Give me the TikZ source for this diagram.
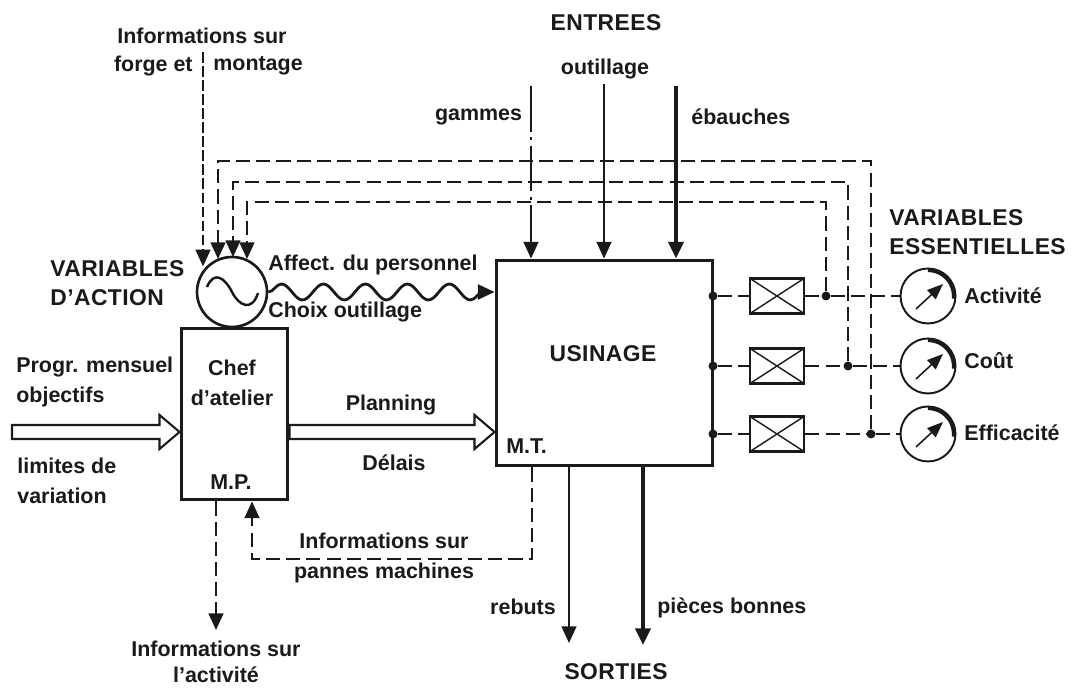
\documentclass[tikz,border=0pt]{standalone}
\usepackage{fontspec}
\setmainfont{Liberation Sans}
\usetikzlibrary{arrows.meta,calc,decorations.pathmorphing}
\definecolor{encre}{HTML}{1A1A1A}

\begin{document}
\begin{tikzpicture}[
  x=0.02cm, y=-0.02cm, encre,
  etiq/.style={inner sep=0pt, font=\fontsize{12.2}{16.8}\selectfont\bfseries, align=center},
  etiqg/.style={etiq, anchor=west, align=left},
  majus/.style={font=\fontsize{13}{16.8}\selectfont\bfseries\addfontfeature{LetterSpace=2}},
  boite/.style={draw, line width=1.7pt},
  capteur/.style={draw, line width=1.5pt, minimum width=1.08cm, minimum height=0.7cm,
                  path picture={\draw[line width=0.8pt]
                    (path picture bounding box.north west) -- (path picture bounding box.south east)
                    (path picture bounding box.south west) -- (path picture bounding box.north east);}},
  cadran/.style={draw, circle, line width=1.1pt, minimum size=1.1cm, inner sep=0pt},
  point/.style={circle, fill, inner sep=0pt, minimum size=0.18cm},
  fleche/.style={-{Triangle[length=9.5pt,width=8.5pt]}},
  tirets/.style={line width=1pt, dash pattern=on 8pt off 3.5pt},
  tiretscourts/.style={line width=1pt, dash pattern=on 6pt off 2pt},
  mixte/.style={line width=1pt, dash pattern=on 26pt off 3pt on 2pt off 3pt},
  aiguille/.style={line width=0.9pt, -{Triangle[length=9pt,width=7pt]}},
  creuse/.style={line width=1.2pt, to path={
    ($(\tikztostart)+(0,-7)$) -- ($(\tikztotarget)+(-20,-7)$) -- ($(\tikztotarget)+(-20,-17)$)
    -- (\tikztotarget) -- ($(\tikztotarget)+(-20,17)$) -- ($(\tikztotarget)+(-20,7)$)
    -- ($(\tikztostart)+(0,7)$) -- cycle}}
]
\useasboundingbox (0,0) rectangle (1073,688);

% blocs
\node[boite, minimum width=4.34cm, minimum height=4.12cm] (usinage) at (604.5,363) {};
\node[boite, minimum width=2.14cm, minimum height=3.44cm] (chef) at (234.5,414) {};
\node[draw, circle, line width=1.5pt, minimum size=1.4cm, inner sep=0pt] (variateur) at (232,292) {};
\draw[line width=1.4pt] ($(variateur)+(-25,-5)$) .. controls ($(variateur)+(-18,-22)$) and ($(variateur)+(-7,-14)$) .. (variateur.center)
  .. controls ($(variateur)+(7,14)$) and ($(variateur)+(20,20)$) .. ($(variateur)+(26,1)$);

\node[capteur] (c1) at (777,296) {};
\node[capteur] (c2) at (777,366) {};
\node[capteur] (c3) at (777,434) {};
\node[point] (p1) at (713,296) {};
\node[point] (p2) at (713,366) {};
\node[point] (p3) at (713,434) {};
\node[point] (j1) at (826,296) {};
\node[point] (j2) at (848,366) {};
\node[point] (j3) at (871,434) {};
\node[cadran] (g1) at (928,296) {};
\node[cadran] (g2) at (928,366) {};
\node[cadran] (g3) at (928,434) {};

% cadrans
\draw[aiguille] ($(g1)+(-12,13)$) -- ($(g1)+(15,-12)$);
\draw[aiguille] ($(g2)+(-12,13)$) -- ($(g2)+(15,-12)$);
\draw[aiguille] ($(g3)+(-12,13)$) -- ($(g3)+(15,-12)$);
\draw[line width=2.4pt] ($(g1)+(0,-26)$) arc[start angle=-90, end angle=6, radius=26];
\draw[line width=2.4pt] ($(g2)+(0,-26)$) arc[start angle=-90, end angle=6, radius=26];
\draw[line width=2.4pt] ($(g3)+(0,-26)$) arc[start angle=-90, end angle=6, radius=26];

% entrees et sorties
\coordinate (gam) at (531,86);
\coordinate (out) at (604,84);
\coordinate (eba) at (676,86);
\coordinate (reb) at (569,643);
\coordinate (bon) at (643,645);
\draw[mixte, fleche] (gam) -- (gam |- usinage.north);
\draw[line width=1pt, fleche] (out) -- (out |- usinage.north);
\draw[line width=2.8pt, fleche] (eba) -- (eba |- usinage.north);
\draw[line width=1pt, fleche] (reb |- usinage.south) -- (reb);
\draw[line width=2.8pt, fleche] (bon |- usinage.south) -- (bon);

% retours
\coordinate (r1) at (218,161);
\coordinate (r2) at (233,182);
\coordinate (r3) at (247,202);
\coordinate (v1) at (218,259);
\coordinate (v2) at (233,257);
\coordinate (v3) at (247,259);
\coordinate (forge) at (203,52);
\draw[tirets, fleche] (j3) |- (r1) -- (v1);
\draw[tirets, fleche] (j2) |- (r2) -- (v2);
\draw[tirets, fleche] (j1) |- (r3) -- (v3);
\draw[tiretscourts, fleche] (forge) -- (forge |- variateur.north west);

% mesures
\draw[tirets] (p1) -- (c1);
\draw[tirets] (p2) -- (c2);
\draw[tirets] (p3) -- (c3);
\draw[tirets] (c1) -- (j1);
\draw[tirets] (c2) -- (j2);
\draw[tirets] (c3) -- (j3);
\draw[tirets] (j1) -- (g1);
\draw[tirets] (j2) -- (g2);
\draw[tirets] (j3) -- (g3);

% pannes et activite
\coordinate (mt) at (532,559);
\coordinate (mp) at (252,559);
\coordinate (act) at (216,630);
\draw[tirets, fleche] (mt |- usinage.south) -- (mt) -- (mp) -- (mp |- chef.south);
\draw[tirets, fleche] (act |- chef.south) -- (act);

% fleches larges et ordres
\coordinate (ent) at (12,432);
\draw[creuse] (ent) to (chef.west |- ent);
\draw[creuse] (chef.east |- ent) to (usinage.west |- ent);
\draw[line width=1.6pt, fleche, decorate, decoration={snake, segment length=0.84cm, amplitude=0.16cm, post length=2mm}]
  (variateur.east) -- (usinage.west |- variateur);

% textes
\node[etiq, majus] (tentrees) at (606,23) {ENTREES};
\node[etiq] (toutil) at (605,69) {outillage};
\node[etiq] (tgammes) at (478.5,117) {gammes};
\node[etiqg] (tebauches) at (691,117) {ébauches};
\node[etiq] (tinfo) at (202,36) {Informations sur};
\node[etiq, anchor=east] (tforge) at (193,66) {forge et};
\node[etiqg] (tmontage) at (213,66) {montage};
\node[etiqg, majus] (tvaction) at (50,283) {VARIABLES\\D'ACTION};
\node[etiqg] (taffect) at (268,265) {Affect. du personnel};
\node[etiqg] (tchoix) at (268,312) {Choix outillage};
\node[etiq] (tchef) at (232,383) {Chef\\d'atelier};
\node[etiq] (tmp) at (231,482) {M.P.};
\node[etiqg] (tprogr) at (16,382) {Progr. mensuel\\objectifs};
\node[etiqg] (tlimites) at (17,481) {limites de\\variation};
\node[etiq] (tplanning) at (391,405) {Planning};
\node[etiq] (tdelais) at (394,463) {Délais};
\node[etiqg] (tmt) at (506,446) {M.T.};
\node[etiq, majus] (tusinage) at (603,354) {USINAGE};
\node[etiq] (tpannes) at (384,558) {Informations sur\\pannes machines};
\node[etiq] (tactivite) at (216,662) {Informations sur\\[-2pt]l'activité};
\node[etiq] (trebuts) at (523,607) {rebuts};
\node[etiqg] (tbonnes) at (657,608) {pièces bonnes};
\node[etiq, majus] (tsorties) at (616,672) {SORTIES};
\node[etiqg, majus] (tvess) at (889,232) {VARIABLES\\ESSENTIELLES};
\node[etiqg] (tg1) at (964,296) {Activité};
\node[etiqg] (tg2) at (964,361) {Coût};
\node[etiqg] (tg3) at (964,433) {Efficacité};
\end{tikzpicture}
\end{document}
